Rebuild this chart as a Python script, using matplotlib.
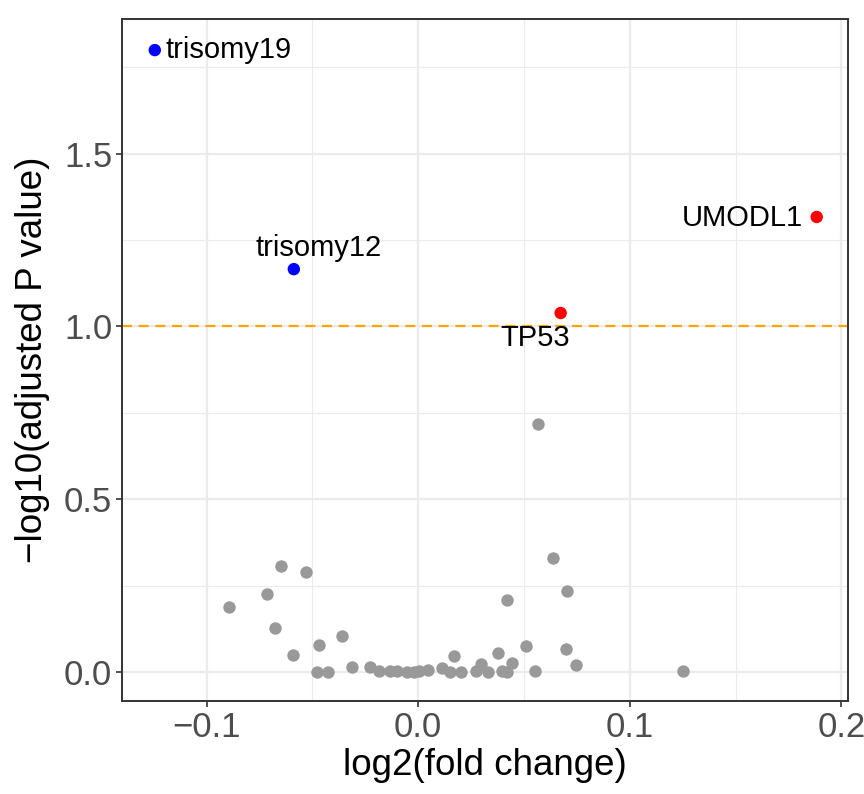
import matplotlib
matplotlib.use("Agg")
import matplotlib.pyplot as plt

plt.rcParams['font.family'] = ['Liberation Sans', 'DejaVu Sans']

# not significant genes (grey)
ns_logfc = [-0.0893, -0.0648, -0.0529, -0.0714, -0.0679, -0.0592, -0.0469, -0.0361,
            -0.0478, -0.0428, -0.0314, -0.0228, -0.0184, -0.0133, -0.0101, -0.0054,
            -0.0022, 0.0002, 0.0044, 0.0113, 0.0149, 0.0200, 0.0171, 0.0271,
            0.0298, 0.0329, 0.0377, 0.0397, 0.0421, 0.0445, 0.0421, 0.0508,
            0.0554, 0.0637, 0.0702, 0.0697, 0.0746, 0.0565, 0.1251]
ns_padj = [0.187, 0.308, 0.288, 0.226, 0.128, 0.048, 0.079, 0.104,
           0.0, 0.0, 0.014, 0.015, 0.002, 0.002, 0.002, 0.0,
           0.0, 0.002, 0.007, 0.011, 0.001, 0.0, 0.045, 0.003,
           0.022, 0.001, 0.056, 0.004, 0.0, 0.025, 0.207, 0.074,
           0.002, 0.329, 0.234, 0.066, 0.020, 0.717, 0.003]

# significant hits
sig_names = ['trisomy19', 'trisomy12', 'TP53', 'UMODL1']
sig_logfc = [-0.1245, -0.0588, 0.0673, 0.1883]
sig_padj = [1.800, 1.166, 1.039, 1.317]
sig_colors = ['blue', 'blue', 'red', 'red']

cutoff = 1.0

xticks = [-0.1, 0.0, 0.1, 0.2]
xlabels = ['\u22120.1', '0.0', '0.1', '0.2']
yticks = [0.0, 0.5, 1.0, 1.5]
ylabels = ['0.0', '0.5', '1.0', '1.5']

fig = plt.figure(figsize=(8.64, 7.94), dpi=100)
ax = fig.add_axes([122 / 864, 1 - 701 / 794, (848 - 122) / 864, (701 - 19) / 794])

ax.set_xticks([-0.05, 0.05, 0.15], minor=True)
ax.set_yticks([0.25, 0.75, 1.25, 1.75], minor=True)
ax.set_xticks(xticks)
ax.set_xticklabels(xlabels)
ax.set_yticks(yticks)
ax.set_yticklabels(ylabels)
ax.set_xlim(-0.1400, 0.2031)
ax.set_ylim(-0.084, 1.890)
ax.grid(True, which='major', color='#EBEBEB', linewidth=1.6)
ax.grid(True, which='minor', color='#EBEBEB', linewidth=0.8)
ax.set_axisbelow(True)

ax.axhline(cutoff, color='orange', linestyle=(0, (4.5, 3)), linewidth=1.6, zorder=2)

ax.scatter(ns_logfc, ns_padj, s=80, color='#999999', linewidths=0, zorder=3)
ax.scatter(sig_logfc, sig_padj, s=80, c=sig_colors, linewidths=0, zorder=3)

# label placement (offset in points, alignment)
offsets = [(8, 0, 'left', 'center'), (18, 15, 'center', 'center'),
           (-18, -18, 'center', 'center'), (-10, -1, 'right', 'center')]
for name, x, y, (dx, dy, ha, va) in zip(sig_names, sig_logfc, sig_padj, offsets):
    ax.annotate(name, (x, y), xytext=(dx, dy), textcoords='offset points',
                ha=ha, va=va, fontsize=21, color='black', zorder=4)

for sp in ax.spines.values():
    sp.set_color('#333333')
    sp.set_linewidth(1.4)

ax.tick_params(which='major', length=4, width=1.2, color='#333333',
               labelsize=25, labelcolor='#4D4D4D', pad=3)
ax.tick_params(which='minor', length=0)

ax.set_xlabel('log2(fold change)', fontsize=26.5, color='black', labelpad=3)
ax.set_ylabel('\u2212log10(adjusted P value)', fontsize=26.5, color='black', labelpad=10)

fig.savefig('out.png', dpi=100)
